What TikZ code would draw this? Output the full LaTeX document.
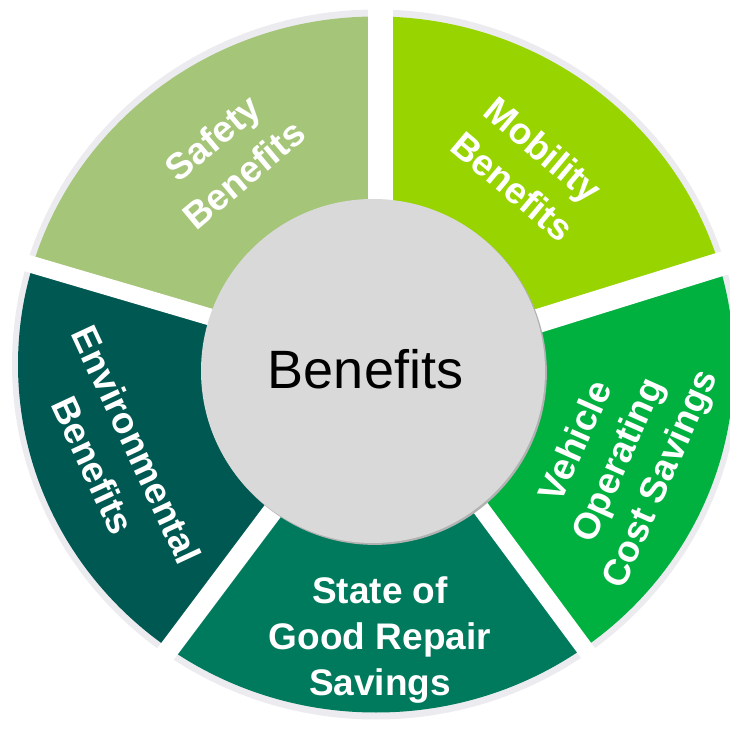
\documentclass[tikz,border=0pt]{standalone}
\usepackage{fontspec}
\setmainfont{Liberation Sans}
\definecolor{safetyc}{HTML}{A5C578}
\definecolor{mobc}{HTML}{97D400}
\definecolor{vehc}{HTML}{00B140}
\definecolor{statec}{HTML}{007A5C}
\definecolor{envc}{HTML}{005852}
\definecolor{rimc}{HTML}{ECECF0}
\definecolor{hubc}{HTML}{D9D9D9}
\begin{document}
\begin{tikzpicture}[x=1pt,y=1pt,
  lab/.style={text=white, font=\bfseries\fontsize{37}{46}\selectfont, align=center, inner sep=0pt},
  labtwo/.style={lab, font=\bfseries\fontsize{37}{48}\selectfont},
  gap/.style={white, line cap=butt}]
\useasboundingbox (0,0) rectangle (730,728);
\coordinate (C) at (376,363.5);
% faint outer rim
\fill[rimc] (C) ellipse [x radius=364, y radius=355];
% sectors
\begin{scope}
  \clip (C) ellipse [x radius=358, y radius=348];
  \fill[safetyc] (C) -- (380.5,1400) -- (-700,1400) -- (-641.3,661.4) -- cycle;
  \fill[mobc] (C) -- (1386.5,670.9) -- (1400,1400) -- (380.5,1400) -- cycle;
  \fill[vehc] (C) -- (1004.5,-487.8) -- (1400,-500) -- (1386.5,670.9) -- cycle;
  \fill[statec] (C) -- (-250,-480) -- (1004.5,-487.8) -- cycle;
  \fill[envc] (C) -- (-641.3,661.4) -- (-700,-500) -- (-250,-480) -- cycle;
\end{scope}
% gaps
\coordinate (g1a) at (380.5,363); \coordinate (g1b) at (380.5,760);
\coordinate (g2a) at (374.2,356.1); \coordinate (g2b) at (813.5,492.7);
\coordinate (g3a) at (373.8,364.4); \coordinate (g3b) at (647.5,-5.4);
\coordinate (g4a) at (374,352); \coordinate (g4b) at (110,0);
\coordinate (g5a) at (373.3,363); \coordinate (g5b) at (-65.9,492.2);
\draw[gap, line width=25] (g1a) -- (g1b);
\draw[gap, line width=24] (g2a) -- (g2b);
\draw[gap, line width=17] (g3a) -- (g3b);
\draw[gap, line width=20] (g4a) -- (g4b);
\draw[gap, line width=17] (g5a) -- (g5b);
% hub
\fill[gray!60] (374.6,355.4) circle (172.3);
\fill[hubc] (373,357) circle (172);
\node[anchor=base, font=\fontsize{54}{60}\selectfont, inner sep=0pt] (hub) at (365.5,339) {Benefits};
% labels
\node[labtwo, rotate=40] (safety) at (228,572) {Safety\\Benefits};
\node[labtwo, rotate=-40] (mobility) at (528,560) {Mobility\\Benefits};
\node[lab, rotate=66] (vehicle) at (620,267) {Vehicle\\Operating\\Cost Savings};
\node[lab] (state) at (380,88) {State of\\Good Repair\\Savings};
\node[labtwo, rotate=-65] (env) at (115,273) {Environmental\\Benefits};
\end{tikzpicture}
\end{document}
